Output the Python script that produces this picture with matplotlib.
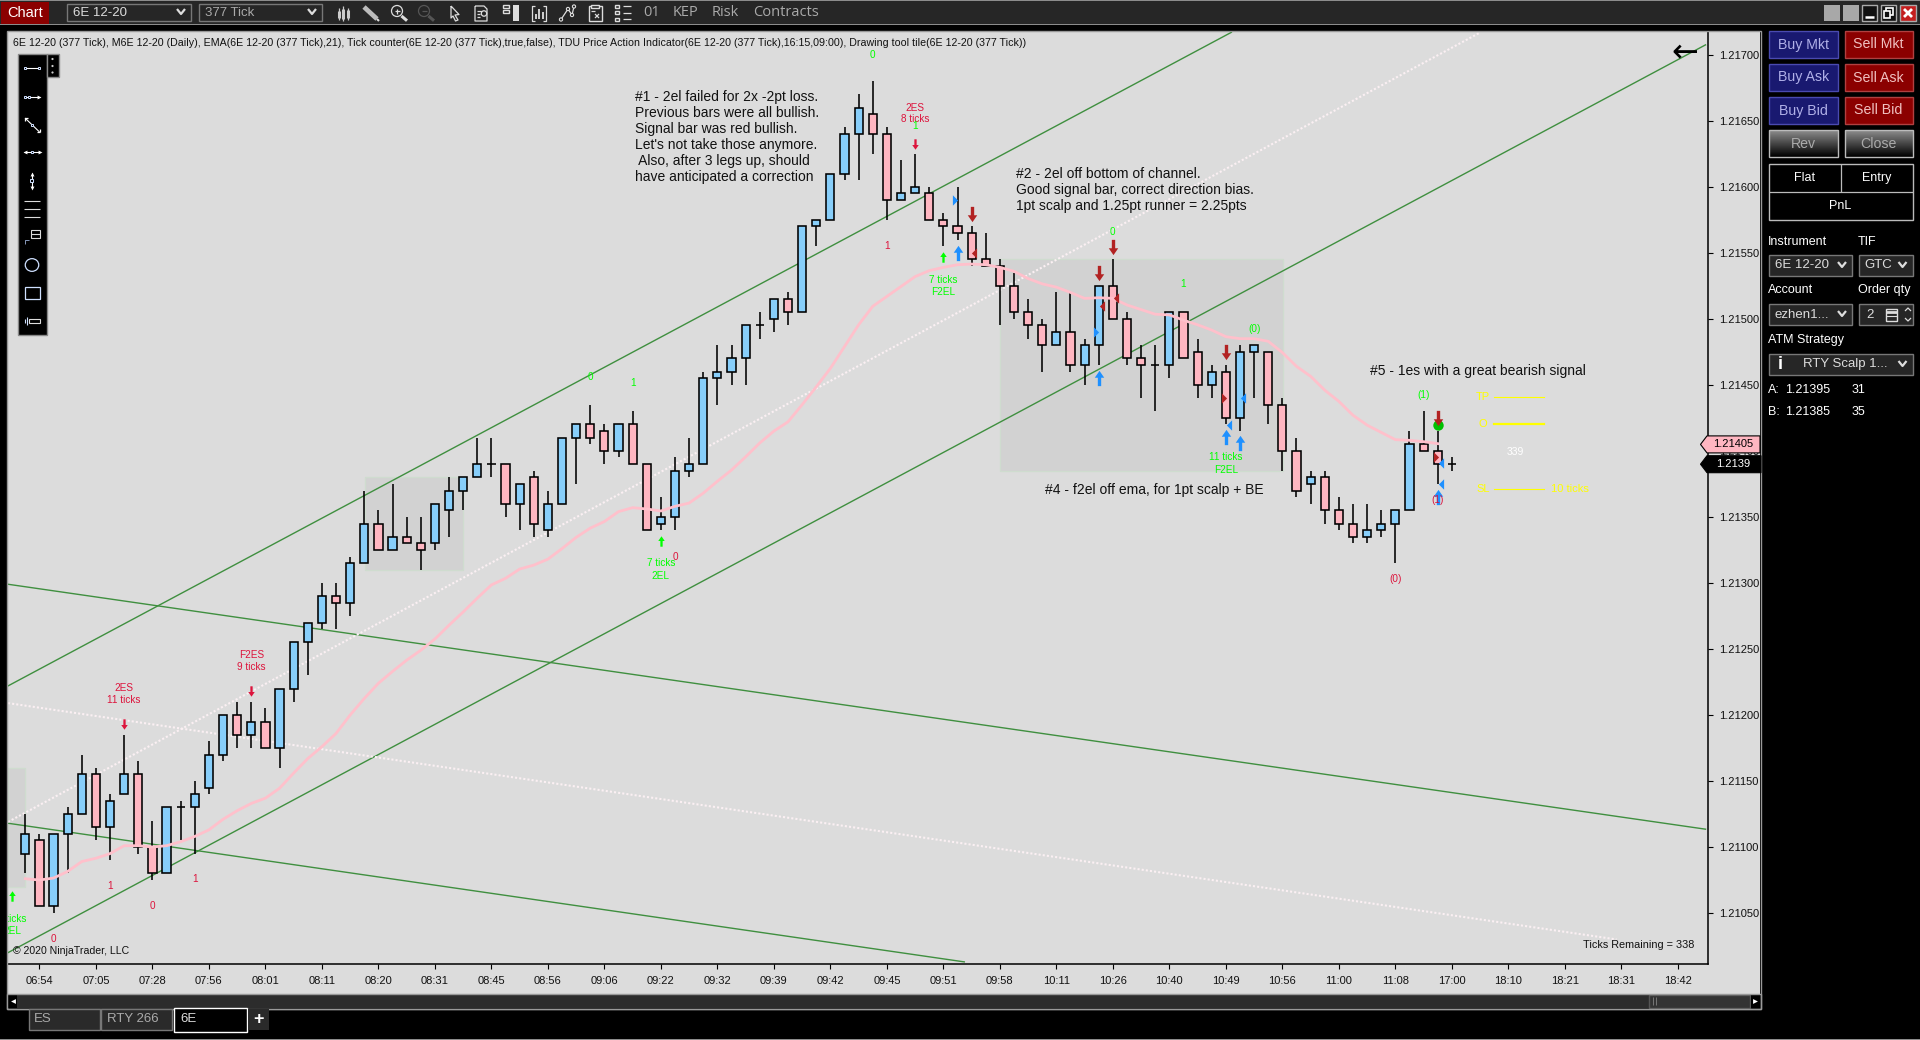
# 6E 12-20 377 tick chart, NinjaTrader style
import numpy as np
import matplotlib
matplotlib.use("Agg")
import matplotlib.pyplot as plt
from matplotlib.patches import Rectangle, Polygon, Circle, Ellipse
from matplotlib.path import Path

plt.rcParams['font.family'] = ['Liberation Sans', 'DejaVu Sans']

# prices are kept as tick counts above 1.21000, one tick = 0.00005
BASE = 1.21
TICK = 0.00005

opens = [19,21,11,22,25,31,23,28,31,20,
         16,26,26,29,34,40,37,39,35,44,
         51,54,58,57,63,69,65,67,66,66,
         71,74,76,78,78,72,76,68,72,82,
         84,83,80,84,78,69,70,77,78,91,
         92,94,99,100,103,101,114,115,122,128,
         131,128,118,119,119,115,114,113,109,108,
         105,101,99,96,98,93,96,105,100,94,
         93,93,101,95,90,92,85,95,95,87,
         80,75,76,71,69,67,68,69,71,81,
         80,78]
closes = [22,11,22,25,31,23,27,31,20,16,
          26,26,28,34,40,37,39,35,44,51,
          54,58,57,63,69,65,67,66,65,72,
          74,76,78,78,72,75,69,72,82,84,
          82,80,84,78,68,70,77,78,91,92,
          94,99,99,103,101,114,115,122,128,132,
          128,118,119,120,115,114,113,109,108,105,
          101,99,96,98,93,96,105,100,94,93,
          93,101,94,90,92,85,95,96,87,80,
          74,76,71,69,67,68,69,71,81,80,
          78,78]
highs = [25,22,22,26,34,32,28,37,33,24,
         26,27,30,36,40,42,42,41,44,51,
         54,60,60,64,74,71,75,70,70,72,
         76,76,82,82,78,75,77,74,82,84,
         87,84,84,86,78,73,79,82,92,96,
         96,99,101,103,104,114,115,122,129,134,
         136,129,124,125,120,116,120,114,113,109,
         107,103,100,104,104,97,105,109,101,96,
         96,101,101,97,93,93,96,96,95,88,
         82,77,77,73,72,72,71,71,83,86,
         83,79]
lows = [16,11,10,16,25,21,18,28,19,15,
        16,21,19,28,33,35,35,35,32,42,
        46,53,53,55,63,65,65,66,62,65,
        67,71,76,76,70,68,67,67,72,75,
        81,78,79,78,68,68,68,76,78,87,
        90,90,97,98,99,101,111,115,121,121,
        125,115,118,119,115,111,112,108,108,99,
        100,97,92,96,92,90,93,100,93,88,
        86,91,94,88,88,84,83,88,84,77,
        73,72,69,68,66,66,67,63,71,80,
        75,77]
ema = [15.2,15,15.3,16.3,17.8,18.3,19,20.2,20.2,20,
       20.2,20.8,21.6,22.6,24.2,25.5,26.6,27.4,28.9,31.2,
       33.4,35.2,37.2,40,42.5,44.8,46.6,48.3,49.8,51.5,
       53.6,55.6,57.7,59.7,60.7,62.1,62.7,63.6,65.2,66.9,
       68.3,69.3,70.8,71.4,71.2,70.9,71.6,72.1,73.6,75.4,
       77.1,79.1,81.2,83,84.4,87,89.7,92.5,95.8,99.1,
       101.9,103.4,104.9,106.4,107.3,107.8,108.2,108.3,108.2,107.8,
       107.2,106.1,105.3,104.8,104,103.1,103.2,103.1,102.1,101.4,
       100.7,100.6,99.8,99.1,98.3,97.3,97,97,96.6,94.9,
       92.8,91.3,89.2,87.5,85.4,83.9,82.8,81.7,81.6,81.4,81.1]

time_labels = ["06:54","07:05","07:28","07:56","08:01","08:11","08:20","08:31","08:45","08:56",
               "09:06","09:22","09:32","09:39","09:42","09:45","09:51","09:58","10:11","10:26",
               "10:40","10:49","10:56","11:00","11:08","17:00","18:10","18:21","18:31","18:42"]
price_ticks = [1.2105,1.2110,1.2115,1.2120,1.2125,1.2130,1.2135,1.2140,1.2145,1.2150,1.2155,1.2160,1.2165,1.2170]

# channel lines: (bar, price) -> (bar, price)
green_lines = [(-1.225,1.21222,85.39,1.21717),
               (-1.225,1.2102,118.96,1.217075),
               (-1.225,1.21299,118.96,1.211135),
               (-1.225,1.21118,66.48,1.21013)]
dotted_lines = [(-1.225,1.21119,103.03,1.21717),
                (-1.225,1.21209,112.66,1.2103)]
# grey zones: bar from, bar to, ticks from, ticks to
zones = [(24.06,31,62,76),(69.03,89.03,77,109),(-1.225,0,14,32)]

# signal marks as (bar, ticks)
small_red_down = [(7,38.6),(16,43.6),(63,126.5)]
small_green_up = [(-0.94,12.6),(45,66.4),(65,109.4)]
big_blue_up = [(66,110),(76,91),(85,82.1),(86,81.2),(100,73)]
big_red_down = [(67,115.9),(76,107),(77,110.9),(85,95),(100,85)]
blue_right = [(65.85,118),(75.8,98)]
blue_left = [(86.2,88),(85.2,83.9),(100.2,78.2),(100.2,75)]
red_left = [(67.2,110),(76.2,102),(77.2,103.2)]
red_right = [(84.85,88),(99.85,79.1)]

# signal labels: bar, ticks, text
red_labels = [(7,44.1,"2ES"),(7,42.3,"11 ticks"),(16,49.1,"F2ES"),(16,47.3,"9 ticks"),
              (6,14.1,"1"),(9,11,"0"),(12,15.1,"1"),(2,6,"0"),(46,64,"0"),
              (63,132,"2ES"),(63,130.2,"8 ticks"),(61,111,"1"),(100,72.6,"(1)"),(97,60.6,"(0)")]
green_labels = [(-0.94,9.1,"7 ticks"),(-0.94,7.3,"2EL"),(40,91.2,"0"),(43,90.3,"1"),
                (45,63,"7 ticks"),(45,61.1,"2EL"),(60,140,"0"),(63,129.2,"1"),
                (65,105.9,"7 ticks"),(65,104,"F2EL"),(77,113.2,"0"),(82,105.3,"1"),
                (87,98.5,"(0)"),(85,79,"11 ticks"),(85,77.1,"F2EL"),(99,88.5,"(1)")]

# notes: bar, ticks of the first line, lines
notes = [(43.2,133.6,["#1 - 2el failed for 2x -2pt loss.","Previous bars were all bullish.",
                      "Signal bar was red bullish.","Let's not take those anymore.",
                      " Also, after 3 legs up, should","have anticipated a correction"]),
         (70.16,122,["#2 - 2el off bottom of channel.","Good signal bar, correct direction bias.",
                     "1pt scalp and 1.25pt runner = 2.25pts"]),
         (72.2,74.1,["#4 - f2el off ema, for 1pt scalp + BE"]),
         (95.2,92.1,["#5 - 1es with a great bearish signal"])]

header = ("6E 12-20 (377 Tick), M6E 12-20 (Daily), EMA(6E 12-20 (377 Tick),21), "
          "Tick counter(6E 12-20 (377 Tick),true,false), TDU Price Action Indicator"
          "(6E 12-20 (377 Tick),16:15,09:00), Drawing tool tile(6E 12-20 (377 Tick))")

ask_price = "1.21395"
bid_price = "1.21385"
last_price = 1.2139
tag_price = 1.21405


def pr(t):
    return BASE + TICK * np.asarray(t, dtype=float)


fig = plt.figure(figsize=(19.2, 10.4), dpi=100, facecolor='black')
W, H = 1920.0, 1040.0


def px_axes(left, top, right, bottom, **kw):
    return fig.add_axes([left / W, 1 - bottom / H, (right - left) / W, (bottom - top) / H], **kw)


# grey area behind the chart and the two axes
back = px_axes(8, 31, 1760, 994, zorder=0)
back.set_facecolor('#dcdcdc')
back.set_xticks([])
back.set_yticks([])
for s in back.spines.values():
    s.set_visible(False)

ax = px_axes(8, 31, 1707.5, 964, zorder=1)
ax.patch.set_alpha(0)
ax.set_xlim(-1.225, 119.1)
ax.set_ylim(1.210114, 1.21718)

# zones
for b0, b1, t0, t1 in zones:
    ax.add_patch(Rectangle((b0, pr(t0)), b1 - b0, pr(t1) - pr(t0), fc='#d2d2d2',
                           ec='#cfdccf', lw=1, zorder=1))

# channels
for x0, y0, x1, y1 in green_lines:
    ax.plot([x0, x1], [y0, y1], color='#3f8f3f', lw=1.0, zorder=2)
for x0, y0, x1, y1 in dotted_lines:
    ax.plot([x0, x1], [y0, y1], color='#fbf0f3', lw=1.5, ls=(0, (1, 1)), zorder=2)

# candles
bars = np.arange(len(opens))
o, c, h, l = pr(opens), pr(closes), pr(highs), pr(lows)
ax.vlines(bars, l, h, color='black', lw=1.15, zorder=3)
body = 8.2 / 14.12
for i in bars:
    if opens[i] == closes[i]:
        ax.hlines(o[i], i - body / 2, i + body / 2, color='black', lw=1.15, zorder=4)
    else:
        col = '#87cefa' if closes[i] > opens[i] else '#ffb6c1'
        ax.bar(i, abs(c[i] - o[i]), bottom=min(o[i], c[i]), width=body, color=col,
               edgecolor='black', lw=1.15, zorder=4)

# EMA
ax.plot(np.arange(len(ema)), pr(ema), color='#ffc0cb', lw=2.0, zorder=5)

# marker shapes
up_arrow = Path([(0, 1), (0.62, 0.1), (0.22, 0.1), (0.22, -1), (-0.22, -1), (-0.22, 0.1), (-0.62, 0.1), (0, 1)], closed=True)
down_arrow = Path([(0, -1), (0.62, -0.1), (0.22, -0.1), (0.22, 1), (-0.22, 1), (-0.22, -0.1), (-0.62, -0.1), (0, -1)], closed=True)
tri_right = Path([(-0.5, 1), (0.5, 0), (-0.5, -1), (-0.5, 1)], closed=True)
tri_left = Path([(0.5, 1), (-0.5, 0), (0.5, -1), (0.5, 1)], closed=True)


def marks(points, shape, size, color):
    xs = [p[0] for p in points]
    ys = pr([p[1] for p in points])
    ax.plot(xs, ys, ls='none', marker=shape, ms=size, mfc=color, mec='none', zorder=6, clip_on=True)


marks(small_red_down, down_arrow, 7.5, '#dc143c')
marks(small_green_up, up_arrow, 7.5, '#00ff00')
marks(big_blue_up, up_arrow, 11, '#1e90ff')
marks(big_red_down, down_arrow, 11, '#b22222')
marks(blue_right, tri_right, 7.5, '#1e90ff')
marks(blue_left, tri_left, 7.5, '#1e90ff')
marks(red_left, tri_left, 7.5, '#b22222')
marks(red_right, tri_right, 7.5, '#b22222')
ax.plot([100], [pr(83.9)], ls='none', marker='o', ms=7.5, mfc='#00c000', mec='none', zorder=5.5)

for b, t, s in red_labels:
    ax.text(b, pr(t), s, color='#dc143c', fontsize=7.2, ha='center', va='center', clip_on=True, zorder=7)
for b, t, s in green_labels:
    ax.text(b, pr(t), s, color='#00ff00', fontsize=7.2, ha='center', va='center', clip_on=True, zorder=7)

for b, t, lines in notes:
    for i, s in enumerate(lines):
        ax.text(b, pr(t - i * 2.424), s, color='#111111', fontsize=10, ha='left', va='center', zorder=7)

# working order lines
for t, lw_, s in [(88.2, 0.8, "TP"), (84, 1.6, "O"), (74.2, 0.8, "SL")]:
    ax.plot([104, 107.55], [pr(t), pr(t)], color='#ffff00', lw=lw_, zorder=6)
    ax.text(103.2, pr(t), s, color='#ffff00', fontsize=8, ha='center', va='center', zorder=7)
ax.text(108, pr(74.2), "10 ticks", color='#ffff00', fontsize=8, ha='left', va='center', zorder=7)
ax.text(105.5, pr(79.9), "339", color='white', fontsize=7.5, ha='center', va='center', zorder=7)

ax.text(0.0031, 0.0136, "\u00a9 2020 NinjaTrader, LLC", transform=ax.transAxes, fontsize=7.6, color='#111111', va='center')
ax.text(0.9925, 0.0205, "Ticks Remaining = 338", transform=ax.transAxes, fontsize=7.8, color='#111111', va='center', ha='right')
ax.text(0.003, 0.9875, header, transform=ax.transAxes, fontsize=7.63, color='#111111', va='center')
ax.text(0.9865, 0.9762, "\u2190", transform=ax.transAxes, fontsize=23, color='black', va='center', ha='center', family='DejaVu Sans')

# axes
ax.spines['top'].set_visible(False)
ax.spines['left'].set_visible(False)
ax.spines['right'].set_linewidth(1.1)
ax.spines['bottom'].set_linewidth(1.1)
ax.yaxis.tick_right()
ax.set_yticks(price_ticks)
ax.set_yticklabels(["%.5f" % p for p in price_ticks])
ax.tick_params(axis='y', length=3.5, width=0.8, pad=5, labelsize=8, labelcolor='#111111')
ax.set_xticks(np.arange(1, 1 + 4 * len(time_labels), 4))
ax.set_xticklabels(time_labels)
ax.tick_params(axis='x', length=3.5, width=0.8, pad=5, labelsize=8, labelcolor='#111111')

# everything around the chart is drawn in pixel coordinates
ui = fig.add_axes([0, 0, 1, 1], zorder=3)
ui.set_xlim(0, W)
ui.set_ylim(H, 0)
ui.axis('off')
ui.patch.set_alpha(0)


def box(x0, y0, x1, y1, fc='none', ec='none', lw=1.0, z=2):
    ui.add_patch(Rectangle((x0, y0), x1 - x0, y1 - y0, fc=fc, ec=ec, lw=lw, zorder=z))


def label(x, y, s, color='#dddddd', size=9.5, ha='left', **kw):
    ui.text(x, y, s, color=color, fontsize=size, ha=ha, va='center', zorder=5, **kw)


def seg(pts, color='#dddddd', lw=0.9, z=4):
    xs, ys = zip(*pts)
    ui.plot(xs, ys, color=color, lw=lw, zorder=z, solid_capstyle='butt')


def chevron(x, y, color='#dddddd'):
    seg([(x - 4, y - 3), (x, y + 2), (x + 4, y - 3)], color=color, lw=1.6)


def combo(x0, y0, x1, y1, s, color='#dddddd', tx=None):
    box(x0, y0, x1, y1, fc='#262626', ec='#777777')
    label(tx if tx else x0 + 6, (y0 + y1) / 2, s, color=color)
    chevron(x1 - 10, (y0 + y1) / 2 - 0.5)


# frame of the chart window
box(7, 30.5, 1761, 1008.5, ec='#999999', z=1.5)

# title bar
box(0, 0, W, 24, fc='#262626')
box(0, 24, W, 25.2, fc='#8c8c8c')
box(0, 0, W, 1, fc='#8c8c8c')
box(1, 2, 49, 24, fc='#8b0000')
label(25, 13, "Chart", color='white', size=10.5, ha='center')
combo(67, 4, 191, 21, "6E 12-20")
combo(199, 4, 322, 21, "377 Tick", color='#aaaaaa')
for x, s in [(643, "01"), (673, "KEP"), (712, "Risk"), (753, "Contracts")]:
    label(x, 12.5, s, color='#aaaaaa', size=10.5, family='Open Sans')

# toolbar icons, simplified
for x, (a, b), (ba, bb) in [(339, (8, 20), (11, 18)), (343.3, (6, 21), (9, 19)), (347.7, (8, 20), (10, 18))]:
    seg([(x, a), (x, b)], lw=0.9, color='#cccccc')
    seg([(x, ba), (x, bb)], lw=2.2, color='#cccccc')
seg([(364, 7), (377, 19)], lw=3.4, color='#bbbbbb')
seg([(377, 19), (379, 21)], lw=1.5, color='#dddddd')
for x, col in [(397, '#dddddd'), (424, '#555555')]:
    ui.add_patch(Circle((x, 11), 5.5, fc='none', ec=col, lw=0.9, zorder=4))
    seg([(x - 2.5, 11), (x + 2.5, 11)], color=col)
    seg([(x + 4.5, 16), (x + 10, 20.7)], color=col, lw=2.2)
seg([(397, 8.5), (397, 13.5)])
seg([(451, 6), (459, 14.5), (455, 15), (458, 20), (455.5, 21), (453, 16), (451, 18), (451, 6)])
seg([(475, 6), (484, 6), (487, 9), (487, 21), (475, 21), (475, 6)])
seg([(477, 11), (482, 11)])
seg([(477, 14), (480, 14)])
seg([(477, 17), (480, 17)])
ui.add_patch(Circle((484, 13.5), 2.7, fc='#262626', ec='#dddddd', lw=0.9, zorder=4.5))
box(512.7, 5, 518.7, 21, fc='#dddddd')
box(503, 5, 509, 8.3, ec='#dddddd')
box(503, 10, 509, 13.3, ec='#dddddd')
seg([(535, 5.5), (531.5, 5.5), (531.5, 20.5), (535, 20.5)])
seg([(542.5, 5.5), (546, 5.5), (546, 20.5), (542.5, 20.5)])
for x, a in [(535.5, 14), (539, 9), (542.5, 12)]:
    seg([(x, a), (x, 18.5)], lw=1.3)
seg([(561, 19.5), (568, 9), (572, 15), (574, 6.5)])
for x, y in [(561, 19.5), (568, 9), (572, 15), (574, 6.5)]:
    ui.add_patch(Circle((x, y), 1.6, fc='#262626', ec='#dddddd', lw=0.8, zorder=4.5))
box(588.5, 6, 601.5, 21, ec='#dddddd')
box(591, 4.5, 599, 8, fc='#262626', ec='#dddddd', z=3)
seg([(591, 11), (595, 11)])
seg([(595, 14), (599, 18)])
seg([(599, 14), (595, 18)])
for y in [6, 12.7, 19.3]:
    box(615, y - 1.5, 619, y + 1.5, ec='#dddddd')
    seg([(622.7, y), (630.7, y)])

# window buttons
box(1824, 5, 1840, 21, fc='#a8a8a8')
box(1843, 5, 1859, 21, fc='#a8a8a8')
box(1862, 5, 1877, 21, fc='#111111', ec='#aaaaaa')
seg([(1865, 17), (1874, 17)], color='white', lw=1.8)
box(1881, 5, 1896, 21, fc='#111111', ec='#aaaaaa')
box(1886, 8, 1893, 15, ec='white', lw=1.2)
box(1884, 11, 1890, 18, fc='#111111', ec='white', lw=1.2, z=3)
box(1900, 5, 1916, 21, fc='#c41e1e', ec='#aaaaaa')
seg([(1904, 9), (1912, 17)], color='white', lw=2)
seg([(1912, 9), (1904, 17)], color='white', lw=2)

# drawing tools bar
box(17.5, 54, 46.5, 335, fc='black', ec='#888888')
box(46.5, 54, 58.5, 77, fc='black', ec='#888888')
for y in [59, 66, 72.5]:
    ui.add_patch(Circle((52.5, y), 1.1, fc='#cccccc', ec='none', zorder=4))


def node(x, y, col='#cfe0ff'):
    ui.add_patch(Rectangle((x - 1.3, y - 1.3), 2.6, 2.6, fc='black', ec=col, lw=0.7, zorder=4.5))


seg([(24, 68), (40, 68)], color='white', lw=0.8)
node(25, 68)
node(39, 68)
seg([(24, 97), (40, 97)], color='white', lw=0.8)
node(25, 97)
node(29, 97)
ui.plot([39], [97], marker='>', ms=2.8, color='white', mec='none', zorder=4)
seg([(25, 118), (39.5, 132)], color='white', lw=0.8)
node(32, 125)
seg([(25, 118), (28, 118)], color='white')
seg([(25, 118), (25, 121)], color='white')
seg([(39.5, 132), (36.5, 132)], color='white')
seg([(39.5, 132), (39.5, 129)], color='white')
seg([(24, 152), (40, 152)], color='white', lw=0.8)
node(32, 152)
ui.plot([24.5], [152], marker='<', ms=2.8, color='white', mec='none', zorder=4)
ui.plot([39.5], [152], marker='>', ms=2.8, color='white', mec='none', zorder=4)
seg([(31.5, 173), (31.5, 188)], color='white', lw=0.8)
node(31.5, 180.5)
ui.plot([31.5], [174], marker='^', ms=2.8, color='white', mec='none', zorder=4)
ui.plot([31.5], [187.5], marker='v', ms=2.8, color='white', mec='none', zorder=4)
for y in [201, 209, 217]:
    seg([(24, y), (40, y)], color='#dddddd', lw=0.8)
box(30.5, 230, 40, 238, ec='#dddddd', lw=0.8)
seg([(30.5, 234), (40, 234)], color='#dddddd', lw=0.8)
seg([(24.5, 244), (24.5, 240), (29, 240)], color='#8899bb', lw=0.7)
ui.add_patch(Ellipse((32, 265), 13.5, 12.7, fc='none', ec='#cfe0ff', lw=0.9, zorder=4))
box(24.5, 287, 39.5, 299, ec='#cfe0ff', lw=0.9)
box(28.5, 319, 39.6, 323, ec='#dddddd', lw=0.8)
seg([(27, 317), (27, 325)], color='#cfe0ff', lw=0.8)
seg([(25, 319), (25, 323)], color='#cfe0ff', lw=0.8)


# order buttons
def order_btn(x0, y0, x1, y1, s, fc, ec, color):
    box(x0, y0, x1, y1, fc=fc, ec=ec)
    label((x0 + x1) / 2, (y0 + y1) / 2, s, color=color, size=10.2, ha='center')


rows = [(31, 58, "Mkt"), (64, 91, "Ask"), (97, 124, "Bid")]
for y0, y1, kind in rows:
    order_btn(1768.6, y0, 1838, y1, "Buy " + kind, '#191970', '#4a4ab0', '#b0b0e8')
    order_btn(1844.5, y0, 1912.5, y1, "Sell " + kind, '#8b0000', '#b04040', '#f0c0c0')

grad = np.linspace(0.55, 0, 30).reshape(-1, 1)
for x0, x1, s in [(1768.6, 1838, "Rev"), (1844.5, 1912.5, "Close")]:
    ui.imshow(grad, extent=[x0, x1, 157, 130], cmap='gray', vmin=0, vmax=1, aspect='auto', zorder=2)
    box(x0, 130, x1, 157, ec='#bbbbbb', z=3)
    label((x0 + x1) / 2, 143.5, s, color='#aaaaaa', size=10.2, ha='center')
ui.set_xlim(0, W)
ui.set_ylim(H, 0)

box(1768.6, 164, 1912.5, 220, ec='#bbbbbb')
seg([(1768.6, 192), (1912.5, 192)], color='#bbbbbb')
seg([(1840.5, 164), (1840.5, 192)], color='#bbbbbb')
label(1804.5, 178, "Flat", color='white', size=9, ha='center')
label(1876.5, 178, "Entry", color='white', size=9, ha='center')
label(1840.5, 206, "PnL", color='white', size=9, ha='center')

label(1768, 242, "Instrument", size=9, color='white')
label(1858, 242, "TIF", size=9, color='white')
combo(1768.6, 255, 1852, 276, "6E 12-20")
combo(1858.5, 255, 1912.5, 276, "GTC")
label(1768, 290, "Account", size=9, color='white')
label(1858, 290, "Order qty", size=9, color='white')
combo(1768.6, 304, 1852, 325, "ezhen1...")
box(1858.5, 304, 1912.5, 325, fc='#262626', ec='#777777')
label(1870, 314.5, "2", ha='center')
box(1886, 309, 1897, 321, ec='#dddddd')
seg([(1886, 312), (1897, 312)], lw=2)
seg([(1886, 316), (1897, 316)], lw=0.8)
seg([(1905, 311), (1908, 308), (1911, 311)])
seg([(1905, 318), (1908, 321), (1911, 318)])
label(1768, 340, "ATM Strategy", size=9, color='white')
combo(1768.6, 354, 1912.5, 375, "RTY Scalp 1...", tx=1803)
label(1780, 364.5, "i", size=13, color='white', ha='center', fontweight='bold')

for y, a, price, qty in [(390, "A:", ask_price, "31"), (412, "B:", bid_price, "35")]:
    label(1768, y, a, size=9, color='white')
    label(1785.5, y, price, size=9, color='white')
    label(1852, y, qty, size=9, color='white')


# price tags over the axis
def py(p):
    return 55 + (1.217 - p) / 0.0005 * 66


for p, s, fc, col, x1 in [(tag_price, "%.5f" % tag_price, '#ffb6c1', 'black', 1760),
                          (last_price, "%.4f" % last_price, 'black', 'white', 1761)]:
    y = py(p)
    ui.add_patch(Polygon([(1700.5, y), (1707, y - 8.5), (x1, y - 8.5), (x1, y + 8.5), (1707, y + 8.5)],
                         closed=True, fc=fc, ec='black', lw=0.8, zorder=4))
    label(1733, y, s, color=col, size=8, ha='center')

# scroll bar
box(8, 994, 1760, 1008, fc='#2c2c2c')
box(1649, 994.5, 1750, 1007.5, fc='#333333', ec='#555555')
seg([(1653, 997), (1653, 1005)], color='#777777', lw=0.7)
seg([(1656, 997), (1656, 1005)], color='#777777', lw=0.7)
box(8, 994, 17, 1008, fc='black')
ui.plot([13], [1001], marker='<', ms=3.5, color='white', mec='none', zorder=4)
box(1751, 994, 1760, 1008, fc='black')
ui.plot([1755], [1001], marker='>', ms=3.5, color='white', mec='none', zorder=4)
box(7, 993.5, 1761, 1008.5, ec='#999999')

# tabs
box(28.6, 1009, 99.6, 1030, fc='#2a2a2a', ec='#777777')
label(34, 1019.5, "ES", color='#aaaaaa')
box(101, 1009, 172, 1030, fc='#2a2a2a', ec='#777777')
label(107, 1019.5, "RTY 266", color='#aaaaaa')
box(173.5, 1008, 246.5, 1032, fc='black', ec='white')
label(180, 1019.5, "6E", color='#dddddd')
box(248, 1009, 269, 1030, fc='#2a2a2a')
label(258.5, 1019.5, "+", color='white', size=13, ha='center', fontweight='bold')
box(0, 1039, W, 1040, fc='#8c8c8c')

fig.savefig("out.png", dpi=100, facecolor='black')
